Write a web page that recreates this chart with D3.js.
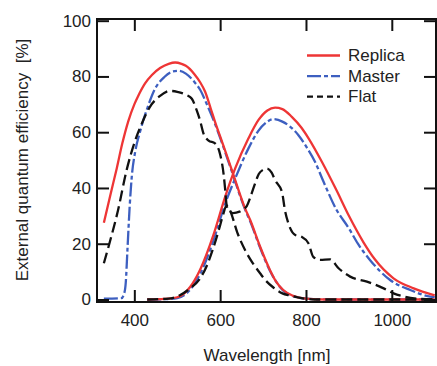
<!DOCTYPE html>
<html>
<head>
<meta charset="utf-8">
<script src="https://cdn.jsdelivr.net/npm/d3@7"></script>
<style>
  body { margin: 0; background: #fff; }
  svg text { font-family: "Liberation Sans", Arial, Helvetica, sans-serif; fill: #222; }
</style>
</head>
<body>
<svg id="chart" width="437" height="366"></svg>
<script>
// values: [wavelength nm, EQE %]
const replicaBlue = [[329,27.5],[345,38],[359,47],[372,56],[386,64],[400,70],[409,73],[425,77.5],[441,80.5],[460,83],[480,84.5],[495,85],[510,84.5],[520,83.8],[540,80.8],[553,78],[565,74.5],[578,68.5],[590,62.8],[600,58.5],[627,46.5],[658,32.7],[670,28.5],[693,19],[716,10.6],[730,6.5],[747,3.4],[770,1.3],[800,0.3],[850,0],[1100,0]];
const replicaRed = [[430,0],[470,0.2],[500,0.8],[530,4.5],[553,10.6],[584,23],[612,37],[635,47],[666,57.8],[689,64.3],[710,67.8],[728,68.8],[745,68.3],[767,65.5],[790,61.5],[806,57.8],[837,49.4],[870,39.5],[900,30],[934,20.5],[960,14.5],[1004,7.6],[1051,4],[1100,1.5]];
const masterBlue = [[329,0.3],[370,0.5],[376,2],[380,6],[384,18],[389,33],[394,44],[402,53],[413,60],[430,68.5],[448,75.5],[470,79.8],[490,81.8],[503,82],[520,81],[540,78],[553,75.3],[569,70],[588,63],[600,58],[627,46],[658,32.3],[670,28],[693,18.6],[716,10.3],[747,3.2],[770,1.2],[800,0.3],[850,0],[1100,0]];
const masterRed = [[430,0],[470,0.1],[500,0.5],[530,3.5],[553,9],[584,21],[612,34.5],[635,43.4],[666,54.2],[689,60.5],[710,63.8],[724,64.7],[745,63.8],[782,59],[800,55],[821,49.4],[841,42.2],[870,32.5],[900,25.5],[921,20],[949,14.2],[996,7],[1043,3.4],[1090,1],[1100,0.8]];
const flatBlue = [[329,13],[343,20.7],[362,32],[382,46.4],[402,57],[420,64],[436,69],[460,73],[483,74.8],[500,74.5],[522,73.3],[534,72],[545,68],[553,64.3],[561,59.6],[573,57],[588,56],[600,52],[608,45],[612,39],[615,34],[623,32],[640,24],[662,16.6],[674,13.5],[693,9.4],[705,7],[724,4.3],[745,2.2],[763,1.4],[790,0.5],[820,0],[1100,0]];
const flatRed = [[430,0],[480,0.3],[507,1.6],[530,4],[553,7.5],[570,12.5],[584,18.5],[597,25],[608,31],[614,33.5],[620,32],[630,31],[645,31.5],[655,32.5],[662,33.5],[670,36.5],[680,41],[690,45],[700,46.5],[709,47],[720,45.5],[728,42.8],[744,38.6],[751,32],[759,27.3],[775,23.1],[790,22.5],[806,20.1],[817,15.3],[833,14.2],[856,14.4],[876,11.2],[903,8.2],[942,6.4],[981,4],[1004,2.2],[1030,1],[1060,0.3],[1100,0]];

const xTicks = [400, 600, 800, 1000];
const yTicks = [0, 20, 40, 60, 80, 100];
const legendNames = ["Replica", "Master", "Flat"];

const styles = {
  Replica: {color: "#ee3535", dash: null},
  Master: {color: "#3d5fc0", dash: "14,3,4,3"},
  Flat: {color: "#111", dash: "11,5"}
};

const svg = d3.select("#chart");
const x = d3.scaleLinear().domain([313, 1103]).range([97, 436]);
const y = d3.scaleLinear().domain([-0.9, 100.6]).range([302, 19]);

const line = d3.line()
  .x(d => x(d[0]))
  .y(d => y(d[1]))
  .curve(d3.curveMonotoneX);

// curves: master under replica, flat on top
const curves = [
  ["Master", masterBlue], ["Master", masterRed],
  ["Replica", replicaBlue], ["Replica", replicaRed],
  ["Flat", flatBlue], ["Flat", flatRed]
];
svg.append("g").selectAll("path")
  .data(curves)
  .enter().append("path")
  .attr("d", d => line(d[1]))
  .attr("fill", "none")
  .attr("stroke", d => styles[d[0]].color)
  .attr("stroke-width", 2.3)
  .attr("stroke-dasharray", d => styles[d[0]].dash);

// inward ticks on all four sides
const tk = 12;
const fmt = d3.format("d");
svg.append("g").attr("transform", `translate(0,${y.range()[0]})`)
  .call(d3.axisBottom(x).tickValues(xTicks).tickFormat(fmt).tickSizeInner(-tk).tickSizeOuter(0).tickPadding(12))
  .call(g => g.select(".domain").remove());
svg.append("g").attr("transform", `translate(0,${y.range()[1]})`)
  .call(d3.axisTop(x).tickValues(xTicks).tickSizeInner(-tk).tickSizeOuter(0).tickFormat(""))
  .call(g => g.select(".domain").remove());
svg.append("g").attr("transform", `translate(${x.range()[0]},0)`)
  .call(d3.axisLeft(y).tickValues(yTicks).tickFormat(fmt).tickSizeInner(-tk).tickSizeOuter(0).tickPadding(6))
  .call(g => g.select(".domain").remove());
svg.append("g").attr("transform", `translate(${x.range()[1]},0)`)
  .call(d3.axisRight(y).tickValues(yTicks).tickSizeInner(-tk).tickSizeOuter(0).tickFormat(""))
  .call(g => g.select(".domain").remove());

svg.selectAll(".tick line").attr("stroke", "#111").attr("stroke-width", 2);
svg.selectAll(".tick text").style("font-size", "17px").attr("fill", "#222");

svg.append("rect")
  .attr("x", x.range()[0]).attr("y", y.range()[1])
  .attr("width", x.range()[1] - x.range()[0])
  .attr("height", y.range()[0] - y.range()[1])
  .attr("fill", "none").attr("stroke", "#111").attr("stroke-width", 2);

// axis titles
svg.append("text")
  .attr("x", 267).attr("y", 361)
  .attr("text-anchor", "middle")
  .style("font-size", "17px")
  .text("Wavelength [nm]");
svg.append("text")
  .attr("transform", "translate(28,160) rotate(-90)")
  .attr("text-anchor", "middle")
  .style("font-size", "17px")
  .attr("xml:space", "preserve")
  .style("white-space", "pre")
  .text("External quantum efficiency  [%]");

// legend
const lg = svg.append("g").selectAll("g")
  .data(legendNames)
  .enter().append("g")
  .attr("transform", (d, i) => `translate(307,${55.5 + i * 20.6})`);
lg.append("line")
  .attr("x1", 0).attr("x2", 33)
  .attr("stroke", d => styles[d].color)
  .attr("stroke-width", 2.3)
  .attr("stroke-dasharray", d => d === "Flat" ? "6,4" : styles[d].dash);
lg.append("text")
  .attr("x", 41).attr("y", 5.5)
  .style("font-size", "17px")
  .text(d => d);
</script>
</body>
</html>
